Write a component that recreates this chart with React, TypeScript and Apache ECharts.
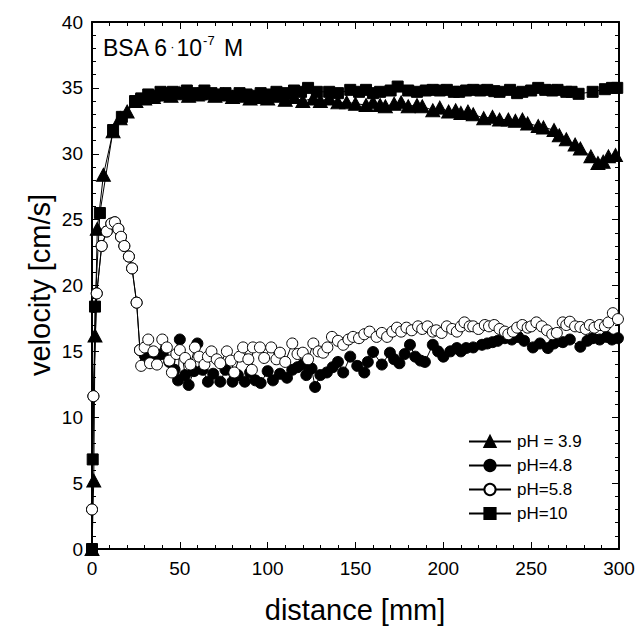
import React, { useEffect, useRef } from "react";
import * as echarts from "echarts";

const FONT = "'Liberation Sans', Arial, Helvetica, sans-serif";

const legendNames = ["pH = 3.9", "pH=4.8", "pH=5.8", "pH=10"];
const xTicks = { min: 0, max: 300, interval: 50 };
const yTicks = { min: 0, max: 40, interval: 5 };

const ph39: number[][] = [
  [0, 0], [1, 5.2], [1.7, 16.2], [3, 24.3], [6.5, 28.4], [12, 31.7], [16, 32.7], [20, 33.2], [25, 34.0],
  [30, 34.2], [35, 34.3], [40, 34.5], [45, 34.4], [50, 34.6], [55, 34.4], [60, 34.5], [65, 34.6], [70, 34.4],
  [75, 34.5], [80, 34.3], [85, 34.4], [90, 34.2], [95, 34.3], [100, 34.2], [105, 34.4], [110, 34.1], [115, 34.3],
  [120, 34.0], [126, 34.2], [130, 34.0], [135, 34.2], [140, 33.9], [145, 33.9], [150, 33.8], [156, 33.7],
  [160, 33.9], [164, 33.7], [167, 33.6], [172, 33.8], [176, 33.9], [180, 33.6], [185, 33.7], [188, 33.6],
  [194, 33.3], [198, 33.5], [203, 33.2], [207, 33.3], [210, 33.1], [214, 33.2], [217, 33.0], [223, 32.7],
  [228, 32.8], [232, 32.6], [237, 32.6], [241, 32.5], [245, 32.6], [248, 32.3], [254, 32.1], [257, 32.0],
  [263, 31.8], [266, 31.4], [270, 31.1], [275, 30.7], [278, 30.4], [284, 29.8], [288, 29.3], [291, 29.4],
  [294, 29.8], [298, 29.9],
];

const ph48: number[][] = [
  [0, 0], [0, 3.0], [0.8, 11.6], [2.7, 19.4], [5.5, 23], [8.4, 24.1], [11, 24.7], [13, 24.8], [15, 24.3],
  [16.5, 23.7], [18.4, 23.0], [21, 22.2], [22.8, 21.3], [25.4, 18.7], [27.3, 15.1], [30, 14.7], [33, 14.6],
  [36, 14.3], [40, 14.8], [44, 14.2], [47, 13.6], [49, 12.8], [50, 15.9], [53, 13.2], [55, 12.45], [58, 13.5],
  [60, 15.6], [63, 13.6], [66, 12.7], [69, 13.3], [73, 12.7], [76, 13.6], [80, 12.7], [83, 13.2], [87, 12.7],
  [90, 13.4], [93, 12.8], [96, 12.6], [100, 13.5], [103, 12.8], [107, 13.3], [111, 13.0], [114, 13.6],
  [117, 13.8], [120, 14.0], [122, 13.2], [125, 13.7], [127, 12.3], [130, 13.2], [133.7, 13.4], [137, 13.8],
  [140, 14.2], [143, 13.4], [147, 14.6], [151, 13.9], [155, 13.4], [157, 14.2], [160, 14.95], [165, 14.0],
  [169.6, 14.9], [172, 14.4], [175, 14.1], [178, 14.8], [181, 15.5], [184, 14.6], [187, 14.3], [189.5, 14.2],
  [194, 15.5], [197, 15.0], [200, 14.6], [204, 15.0], [207.7, 15.25], [210, 15.0], [213, 15.25], [217, 15.3],
  [222, 15.5], [225, 15.6], [228, 15.7], [231, 15.8], [235, 16.0], [239, 15.9], [242.6, 16.1], [246, 15.8],
  [251, 15.3], [255, 15.6], [259.5, 15.25], [263, 15.6], [268, 15.7], [272, 15.9], [278, 15.35], [282, 15.8],
  [285, 16.0], [289, 15.9], [293, 16.1], [296, 15.9], [299.4, 16.0],
];

const ph58: number[][] = [
  [0, 0], [0, 3.0], [0.8, 11.6], [2.7, 19.4], [5.5, 23], [8.4, 24.1], [11, 24.7], [13, 24.8], [15, 24.3],
  [16.5, 23.7], [18.4, 23.0], [21, 22.2], [22.8, 21.3], [25.4, 18.7], [27.3, 15.1], [28, 13.9], [30, 15.3],
  [32, 15.9], [33, 14.1], [35, 15.0], [37, 14.0], [40, 15.9], [42.6, 15.3], [44, 14.3], [45.5, 13.4],
  [48, 14.8], [50, 15.1], [53, 14.5], [56, 14.0], [58.6, 15.3], [61, 14.6], [64, 14.0], [66, 14.6], [68, 15.0],
  [71, 14.4], [73, 14.1], [76.8, 15.0], [79, 14.3], [81, 13.4], [84, 14.6], [86, 15.3], [89, 14.4], [91, 13.6],
  [91.6, 15.3], [95.6, 15.3], [98, 14.5], [102, 15.3], [105, 14.4], [107, 14.9], [110, 14.2], [114, 15.6],
  [117, 14.8], [120, 14.9], [123, 14.4], [126, 15.6], [129, 15.0], [131.6, 14.9], [134, 15.3], [136.6, 16.1],
  [140, 15.8], [143, 15.5], [146, 15.9], [148.6, 16.1], [152, 16.0], [155, 16.3], [158, 16.5], [162, 16.1],
  [165, 16.4], [168, 16.1], [171, 16.5], [173.6, 16.8], [176, 16.5], [179, 16.8], [182, 16.6], [185.6, 16.9],
  [188, 16.7], [191, 16.9], [194, 16.5], [196, 16.6], [199, 16.4], [202, 16.9], [205, 16.7], [207.7, 16.5],
  [210, 16.9], [212, 17.2], [215, 16.9], [217, 16.9], [220, 16.7], [223.6, 17.0], [226, 16.9], [229, 17.0],
  [232, 16.7], [235, 16.5], [237, 16.3], [239.6, 16.5], [242, 16.8], [245, 17.0], [248, 16.8], [250, 16.9],
  [253, 17.2], [256, 16.9], [259, 16.6], [262, 16.3], [264.6, 16.4], [268, 17.2], [270, 17.0], [272, 17.25],
  [275, 16.9], [278, 16.85], [281, 16.7], [283.4, 17.0], [286, 16.8], [289, 17.0], [292, 16.9], [294, 17.2],
  [296.5, 17.9], [299.4, 17.45],
];

const ph10: number[][] = [
  [0, 0], [0.4, 6.8], [1.7, 18.4], [4.5, 25.5], [12, 31.8], [17, 32.8], [24.5, 34.0], [28, 34.2], [32, 34.5],
  [36, 34.4], [39, 34.7], [43, 34.6], [46, 34.7], [50, 34.6], [54, 34.8], [58, 34.6], [62, 34.5], [64, 34.8],
  [68, 34.6], [72, 34.5], [76, 34.6], [80, 34.4], [84, 34.6], [88, 34.5], [92, 34.4], [96, 34.6], [100, 34.5],
  [105, 34.7], [110, 34.6], [115, 34.8], [119, 34.7], [123, 35.0], [128, 34.7], [135, 34.7], [140, 34.6],
  [147, 34.85], [152, 34.7], [156, 34.85], [160, 34.6], [164, 34.7], [170, 34.8], [174, 35.1], [180, 34.8],
  [185, 34.7], [190, 34.8], [194, 34.85], [198, 34.8], [202, 34.85], [206, 34.7], [209, 34.7], [213, 34.8],
  [217, 34.85], [221, 34.8], [225, 34.85], [229, 34.75], [232, 34.7], [238, 34.85], [242, 34.6], [245, 34.7],
  [250, 34.8], [254, 35.0], [258, 34.85], [262, 34.8], [265, 34.85], [270, 34.7], [273, 34.7], [277, 34.55],
  [285, 34.7], [292, 34.9], [296, 35.0], [299, 35.0],
];

export default function App() {
  const ref = useRef<HTMLDivElement>(null);
  useEffect(() => {
    if (!ref.current) return;
    const chart = echarts.init(ref.current, undefined, { renderer: "svg" });
    const axisCommon = {
      axisLine: { show: true, onZero: false, lineStyle: { color: "#000", width: 2 } },
      axisTick: { show: true, inside: true, length: 7, lineStyle: { color: "#000", width: 1 } },
      minorTick: { show: true, splitNumber: 5, length: 4, lineStyle: { color: "#000", width: 1 } },
      splitLine: { show: false },
      minorSplitLine: { show: false },
    };
    const lineSeries = (name: string, data: number[][], symbol: string, size: any, fill: string) => ({
      name,
      type: "line",
      data,
      symbol,
      symbolSize: size,
      showAllSymbol: true,
      lineStyle: { color: "#000", width: 1 },
      itemStyle: { color: fill, borderColor: "#000", borderWidth: 1, opacity: 1 },
      emphasis: { disabled: true },
    });
    chart.setOption({
      animation: false,
      backgroundColor: "#fff",
      grid: { left: 92, top: 22, width: 527, height: 527 },
      xAxis: [
        {
          type: "value",
          ...xTicks,
          ...axisCommon,
          axisLabel: { color: "#000", fontSize: 19, fontFamily: FONT, margin: 10 },
        },
        {
          type: "value",
          position: "top",
          ...xTicks,
          ...axisCommon,
          axisLabel: { show: false },
        },
      ],
      yAxis: [
        {
          type: "value",
          ...yTicks,
          ...axisCommon,
          axisLabel: { color: "#000", fontSize: 19, fontFamily: FONT, margin: 9 },
        },
        {
          type: "value",
          position: "right",
          ...yTicks,
          ...axisCommon,
          axisLabel: { show: false },
        },
      ],
      legend: {
        orient: "vertical",
        left: 463,
        top: 428,
        itemWidth: 42,
        itemHeight: 14,
        itemGap: 7,
        data: legendNames,
        textStyle: { color: "#000", fontSize: 17, fontFamily: FONT, padding: [0, 0, 0, 1] },
      },
      series: [
        lineSeries(legendNames[0], ph39, "triangle", [14, 13], "#000"),
        lineSeries(legendNames[1], ph48, "circle", 11, "#000"),
        lineSeries(legendNames[2], ph58, "circle", 11, "#fff"),
        lineSeries(legendNames[3], ph10, "rect", 11, "#000"),
      ],
      graphic: [
        {
          type: "text",
          left: 103,
          top: 34,
          style: {
            text: "{a|BSA 6}{d|·}{a|10}{s|-7}{a| M}",
            fill: "#000",
            rich: {
              a: { fontSize: 23, fontFamily: FONT, fill: "#000", verticalAlign: "bottom" },
              d: { fontSize: 13, fontFamily: FONT, fill: "#000", verticalAlign: "bottom", padding: [0, 2, 6, 2] },
              s: { fontSize: 13, fontFamily: FONT, fill: "#000", verticalAlign: "top", padding: [0, 3, 12, 1] },
            },
          },
        },
        {
          type: "text",
          x: 355,
          y: 610,
          style: {
            text: "distance [mm]",
            fill: "#000",
            fontSize: 29,
            fontFamily: FONT,
            align: "center",
            verticalAlign: "middle",
          },
        },
        {
          type: "text",
          x: 40,
          y: 285,
          rotation: Math.PI / 2,
          style: {
            text: "velocity [cm/s]",
            fill: "#000",
            fontSize: 29,
            fontFamily: FONT,
            align: "center",
            verticalAlign: "middle",
          },
        },
      ],
    });
    return () => chart.dispose();
  }, []);
  return (
    <div
      ref={ref}
      style={{ position: "absolute", left: 0, top: 0, width: 639, height: 634 }}
    />
  );
}
